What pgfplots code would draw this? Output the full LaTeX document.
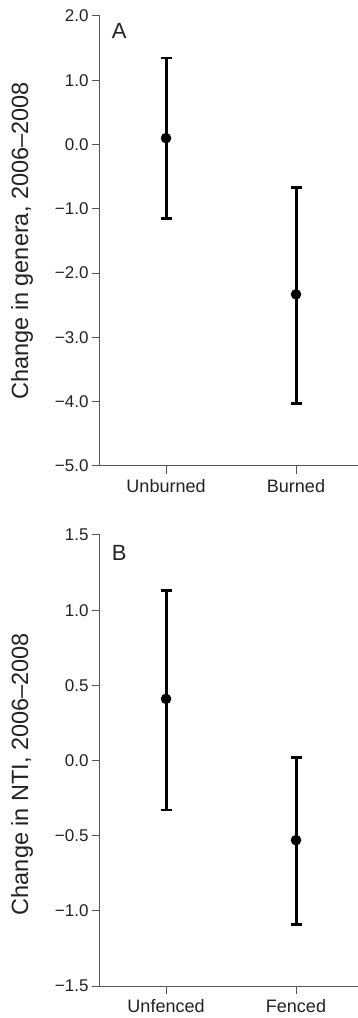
\documentclass[border=0pt]{standalone}
\usepackage{fontspec}
\setmainfont{Liberation Sans}
\usepackage{pgfplots}
\pgfplotsset{compat=1.18}
\definecolor{axgray}{HTML}{555555}
\definecolor{txt}{HTML}{222222}
\begin{document}
\begin{tikzpicture}
\useasboundingbox (0pt,0pt) rectangle (358pt,1018pt);
\pgfplotsset{
  myax/.style={
    scale only axis,
    width=258pt,
    axis x line=bottom, axis y line=left,
    axis line style={-, axgray, line width=1pt},
    tick style={axgray, line width=1pt},
    tick align=outside,
    major tick length=8pt,
    xmin=-0.508, xmax=1.477,
    xtick={0,1},
    x tick label style={font=\fontsize{18}{21}\selectfont, text=txt, yshift=-2pt},
    y tick label style={font=\fontsize{17}{20}\selectfont, text=txt},
    ylabel style={font=\fontsize{23.5}{27}\selectfont, text=txt, at={(axis description cs:-0.302,0.5)}, anchor=center},
    clip=false,
  },
  ebar/.style={black, mark=*, mark size=5pt, line width=3pt, only marks,
    mark options={fill=black, draw=black, line width=0.5pt},
    error bars/.cd, y dir=both, y explicit,
    error bar style={line width=3pt, black},
    error mark options={black, line width=2.4pt, mark size=5.5pt, rotate=90}},
}
% Panel A
\begin{axis}[myax, at={(100pt,552pt)}, anchor=south west, height=450pt,
  ymin=-5, ymax=2,
  ytick={-5,-4,-3,-2,-1,0,1,2},
  yticklabels={−5.0,−4.0,−3.0,−2.0,−1.0,0.0,1.0,2.0},
  xticklabels={Unburned,Burned},
  ylabel={Change in genera, 2006–2008}]
\addplot+[ebar] coordinates {
  (0,0.10) += (0,1.25) -= (0,1.25)
  (1,-2.33) += (0,1.66) -= (0,1.70)
};
\node[anchor=north west, font=\fontsize{22}{26}\selectfont, text=txt, inner sep=0pt] at (rel axis cs:0.045,0.984) {A};
\end{axis}
% Panel B
\begin{axis}[myax, at={(100pt,32pt)}, anchor=south west, height=451pt,
  ymin=-1.5, ymax=1.5,
  ytick={-1.5,-1,-0.5,0,0.5,1,1.5},
  yticklabels={−1.5,−1.0,−0.5,0.0,0.5,1.0,1.5},
  xticklabels={Unfenced,Fenced},
  ylabel style={at={(axis description cs:-0.302,0.47)}},
  ylabel={Change in NTI, 2006–2008}]
\addplot+[ebar] coordinates {
  (0,0.41) += (0,0.72) -= (0,0.74)
  (1,-0.53) += (0,0.55) -= (0,0.56)
};
\node[anchor=north west, font=\fontsize{22}{26}\selectfont, text=txt, inner sep=0pt] at (rel axis cs:0.045,0.978) {B};
\end{axis}
\end{tikzpicture}
\end{document}
